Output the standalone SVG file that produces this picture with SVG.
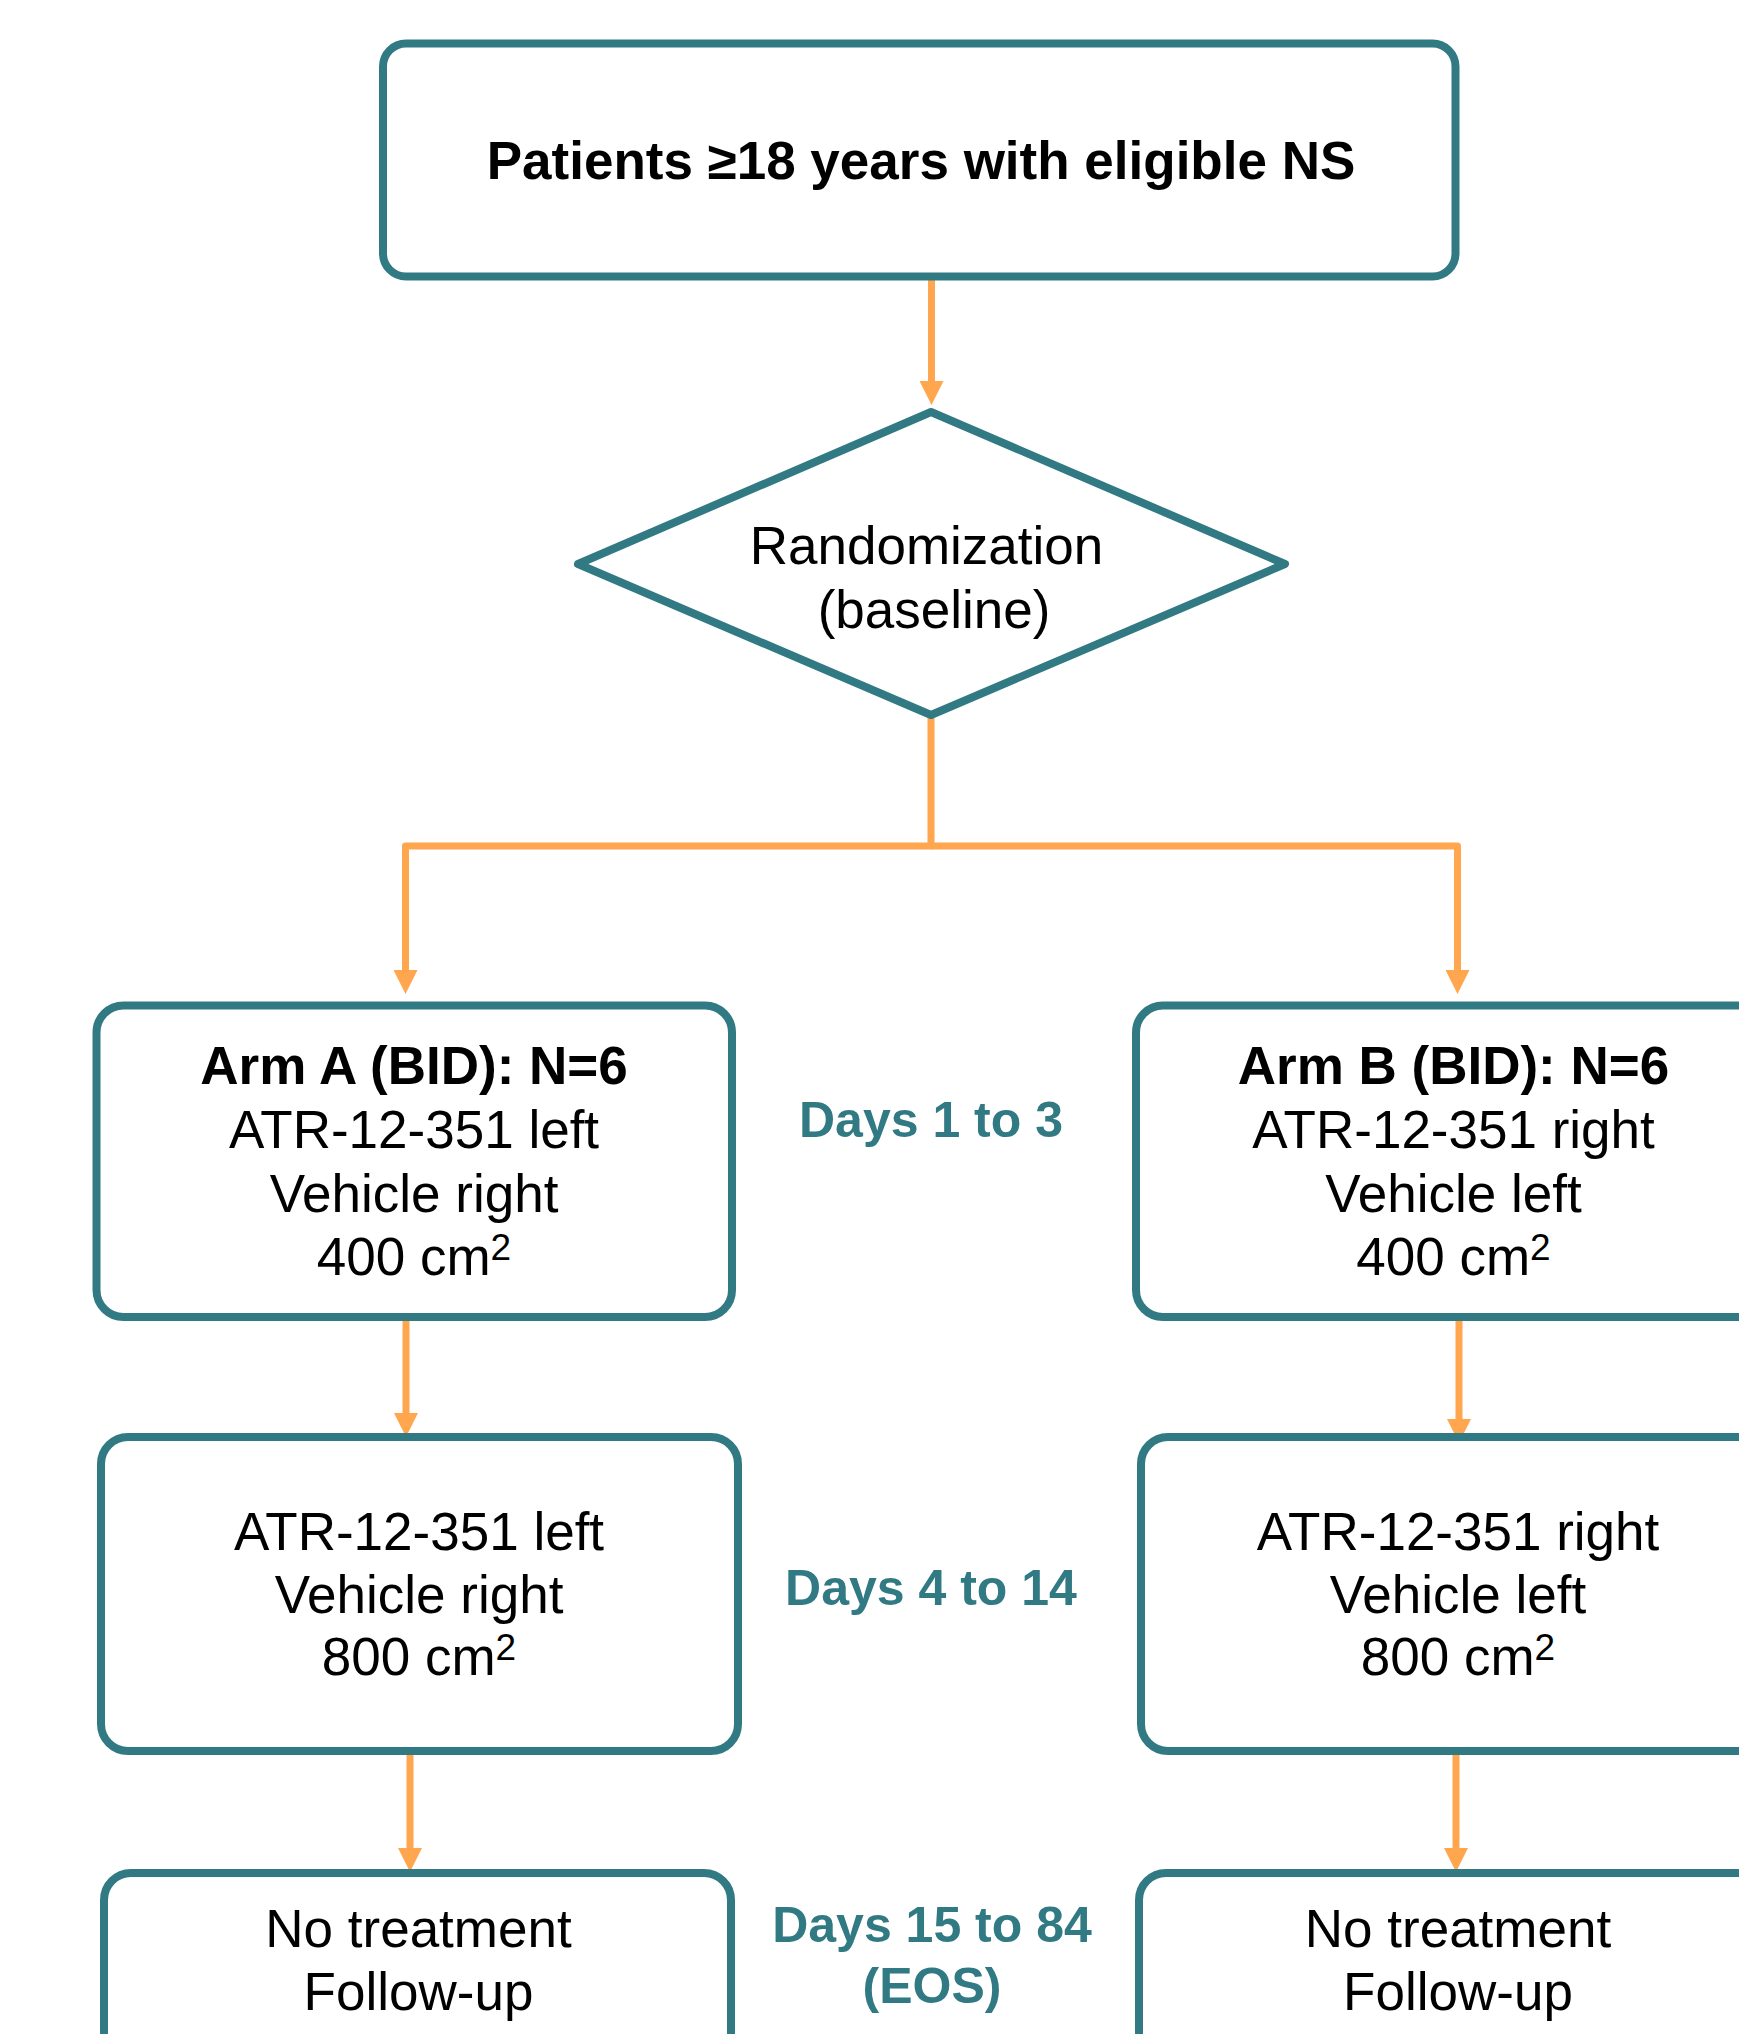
<svg xmlns="http://www.w3.org/2000/svg" width="1739" height="2034" viewBox="0 0 1739 2034">
<style>
.box{fill:#ffffff;stroke:#317A83;stroke-width:8}
.con{fill:none;stroke:#FFA64F;stroke-width:7;stroke-linejoin:round}
.t{font-family:"Liberation Sans",Arial,sans-serif;font-size:53px;fill:#000000;text-anchor:middle}
.b{font-weight:bold}
.d{font-family:"Liberation Sans",Arial,sans-serif;font-size:50px;font-weight:bold;fill:#317A83;text-anchor:middle}
.sup{font-size:37px}
</style>
<defs>
<marker id="ah" markerUnits="userSpaceOnUse" markerWidth="24" markerHeight="24" refX="0" refY="12" orient="auto" viewBox="0 0 24 24">
<path d="M0,0 L24,12 L0,24 Z" fill="#FFA64F"/>
</marker>
</defs>
<rect width="1739" height="2034" fill="#ffffff"/>
<g id="connectors">
<line class="con" x1="931.5" y1="280" x2="931.5" y2="381" marker-end="url(#ah)"/>
<path class="con" d="M931,716 L931,846 L405.5,846 L405.5,970" marker-end="url(#ah)"/>
<path class="con" d="M931,846 L1457.5,846 L1457.5,970" marker-end="url(#ah)"/>
<line class="con" x1="406" y1="1321" x2="406" y2="1413" marker-end="url(#ah)"/>
<line class="con" x1="1459" y1="1321" x2="1459" y2="1419" marker-end="url(#ah)"/>
<line class="con" x1="410" y1="1754" x2="410" y2="1848" marker-end="url(#ah)"/>
<line class="con" x1="1456" y1="1754" x2="1456" y2="1848" marker-end="url(#ah)"/>
</g>
<g id="patients">
<rect class="box" x="383" y="43.5" width="1072.5" height="233" rx="23" ry="23"/>
<text class="t b" x="921" y="179">Patients ≥18 years with eligible NS</text>
</g>
<g id="randomization">
<polygon class="box" points="931,412 1285,564 931,715 578,564" stroke-linejoin="round"/>
<text class="t" x="926.5" y="564">Randomization</text>
<text class="t" x="934" y="628">(baseline)</text>
</g>
<g id="armA1">
<rect class="box" x="96.5" y="1005.5" width="635.5" height="311.5" rx="27" ry="27"/>
<text class="t b" x="414" y="1084">Arm A (BID): N=6</text>
<text class="t" x="414" y="1147.5">ATR-12-351 left</text>
<text class="t" x="414" y="1211.5">Vehicle right</text>
<text class="t" x="414" y="1275">400 cm<tspan class="sup" dy="-15">2</tspan></text>
</g>
<g id="armB1">
<rect class="box" x="1136" y="1005.5" width="640" height="311.5" rx="27" ry="27"/>
<text class="t b" x="1453.5" y="1084">Arm B (BID): N=6</text>
<text class="t" x="1453.5" y="1147.5">ATR-12-351 right</text>
<text class="t" x="1453.5" y="1211.5">Vehicle left</text>
<text class="t" x="1453.5" y="1275">400 cm<tspan class="sup" dy="-15">2</tspan></text>
</g>
<g id="days1">
<text class="d" x="931" y="1137">Days 1 to 3</text>
</g>
<g id="armA2">
<rect class="box" x="101" y="1437" width="637" height="314" rx="27" ry="27"/>
<text class="t" x="419" y="1549.5">ATR-12-351 left</text>
<text class="t" x="419" y="1612.5">Vehicle right</text>
<text class="t" x="419" y="1675">800 cm<tspan class="sup" dy="-15">2</tspan></text>
</g>
<g id="armB2">
<rect class="box" x="1141" y="1437" width="640" height="314" rx="27" ry="27"/>
<text class="t" x="1458" y="1549.5">ATR-12-351 right</text>
<text class="t" x="1458" y="1612.5">Vehicle left</text>
<text class="t" x="1458" y="1675">800 cm<tspan class="sup" dy="-15">2</tspan></text>
</g>
<g id="days2">
<text class="d" x="931" y="1605">Days 4 to 14</text>
</g>
<g id="armA3">
<rect class="box" x="104" y="1873" width="627" height="300" rx="27" ry="27"/>
<text class="t" x="418.5" y="1946.5">No treatment</text>
<text class="t" x="418.5" y="2010">Follow-up</text>
</g>
<g id="armB3">
<rect class="box" x="1139" y="1873" width="640" height="300" rx="27" ry="27"/>
<text class="t" x="1458" y="1946.5">No treatment</text>
<text class="t" x="1458" y="2010">Follow-up</text>
</g>
<g id="days3">
<text class="d" x="932" y="1942">Days 15 to 84</text>
<text class="d" x="932" y="2003">(EOS)</text>
</g>
</svg>
